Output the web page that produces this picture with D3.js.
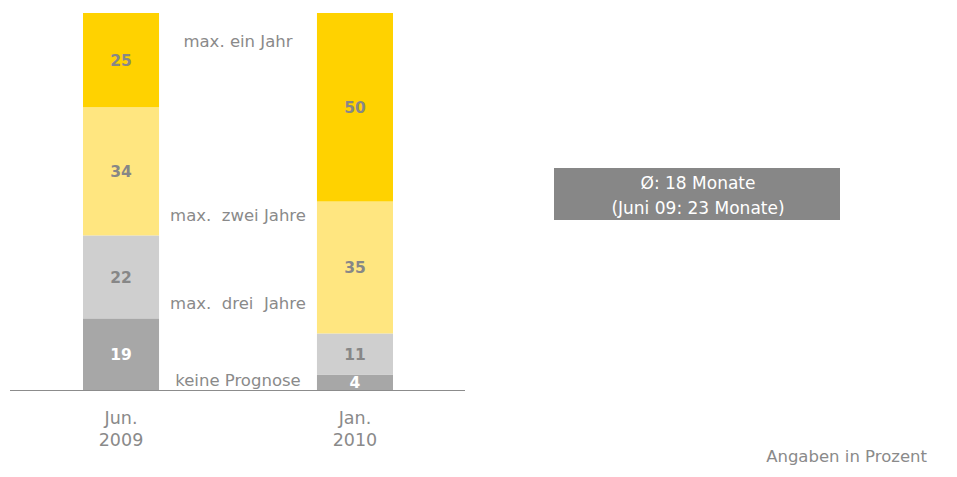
<!DOCTYPE html>
<html>
<head>
<meta charset="utf-8">
<script src="https://cdn.jsdelivr.net/npm/d3@7"></script>
<style>
  body { margin: 0; background: #fff; }
  svg { display: block; }
</style>
</head>
<body>
<div id="wrapper"></div>
<script>
// data
const periods = ["Jun. 2009", "Jan. 2010"]
const periodLines = [["Jun.", "2009"], ["Jan.", "2010"]]
const categories = ["keine Prognose", "max. drei Jahre", "max. zwei Jahre", "max. ein Jahr"]
const categoryLabels = ["keine Prognose", "max.  drei  Jahre", "max.  zwei Jahre", "max. ein Jahr"]
const values2009 = [19, 22, 34, 25]
const values2010 = [4, 11, 35, 50]
const noteLines = ["Ø: 18 Monate", "(Juni 09: 23 Monate)"]
const footnote = "Angaben in Prozent"

const colors = ["#a7a7a7", "#cfcfcf", "#ffe680", "#ffd200"]
const valueColors = ["#ffffff", "#878787", "#878787", "#878787"]

const rows = periods.map((p, i) => {
  const vals = i === 0 ? values2009 : values2010
  const r = { period: p }
  categories.forEach((c, j) => (r[c] = vals[j]))
  return r
})

const width = 957
const height = 477
const baseline = 390

const wrapper = d3.select("#wrapper")
  .append("svg")
  .attr("width", width)
  .attr("height", height)

const fontFamily = "'DejaVu Sans', Verdana, sans-serif"

const xScale = d3.scaleBand()
  .domain(periods)
  .range([83, 393])
  .paddingInner(0.675)
  .paddingOuter(0)

const yScale = d3.scaleLinear()
  .domain([0, 100])
  .range([baseline, 13])

const stack = d3.stack().keys(categories)
const series = stack(rows)

const layers = wrapper.append("g")
  .selectAll("g")
  .data(series)
  .join("g")
  .attr("fill", (d, i) => colors[i])

layers.selectAll("rect")
  .data(d => d)
  .join("rect")
  .attr("x", d => xScale(d.data.period))
  .attr("y", d => yScale(d[1]))
  .attr("width", xScale.bandwidth())
  .attr("height", d => yScale(d[0]) - yScale(d[1]))

// values inside segments
series.forEach((s, i) => {
  wrapper.append("g")
    .selectAll("text")
    .data(s)
    .join("text")
    .attr("x", d => xScale(d.data.period) + xScale.bandwidth() / 2)
    .attr("y", d => (yScale(d[0]) + yScale(d[1])) / 2 + 6)
    .attr("text-anchor", "middle")
    .style("font-family", fontFamily)
    .style("font-weight", "bold")
    .style("font-size", "15.5px")
    .style("fill", valueColors[i])
    .text(d => d[1] - d[0])
})

// baseline
wrapper.append("line")
  .attr("x1", 10)
  .attr("x2", 465)
  .attr("y1", baseline + 0.5)
  .attr("y2", baseline + 0.5)
  .style("stroke", "#8c8c8c")
  .style("stroke-width", 1)

// category labels between bars
const labelY = [386, 309, 221, 47]
const midX = (xScale(periods[0]) + xScale.bandwidth() + xScale(periods[1])) / 2
wrapper.append("g")
  .selectAll("text")
  .data(categoryLabels)
  .join("text")
  .attr("x", midX)
  .attr("y", (d, i) => labelY[i])
  .attr("text-anchor", "middle")
  .style("font-family", fontFamily)
  .style("font-size", "16.5px")
  .style("fill", "#8a8a8a")
  .style("white-space", "pre")
  .text(d => d)

// x axis labels
const xLabels = wrapper.append("g")
  .selectAll("text")
  .data(periods)
  .join("text")
  .attr("x", d => xScale(d) + xScale.bandwidth() / 2)
  .attr("y", 424)
  .attr("text-anchor", "middle")
  .style("font-family", fontFamily)
  .style("font-size", "17.5px")
  .style("fill", "#8a8a8a")

xLabels.selectAll("tspan")
  .data((d, i) => periodLines[i])
  .join("tspan")
  .attr("x", function () { return d3.select(this.parentNode).attr("x") })
  .attr("dy", (d, i) => (i === 0 ? 0 : 22))
  .text(d => d)

// note box
const note = wrapper.append("g")
note.append("rect")
  .attr("x", 554)
  .attr("y", 168)
  .attr("width", 286)
  .attr("height", 52)
  .attr("fill", "#878787")

note.selectAll("text")
  .data(noteLines)
  .join("text")
  .attr("x", 698)
  .attr("y", (d, i) => 189 + i * 25)
  .attr("text-anchor", "middle")
  .style("font-family", fontFamily)
  .style("font-size", "17px")
  .style("fill", "#ffffff")
  .text(d => d)

// footnote
wrapper.append("text")
  .attr("x", 927)
  .attr("y", 462)
  .attr("text-anchor", "end")
  .style("font-family", fontFamily)
  .style("font-size", "16.5px")
  .style("fill", "#8a8a8a")
  .text(footnote)
</script>
</body>
</html>
